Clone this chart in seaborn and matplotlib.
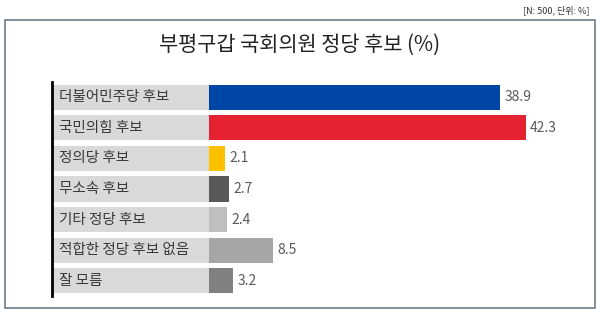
import matplotlib
matplotlib.use("Agg")
import matplotlib.pyplot as plt
import seaborn as sns
import pandas as pd
from matplotlib.patches import Rectangle

categories = ["더불어민주당 후보", "국민의힘 후보", "정의당 후보", "무소속 후보",
              "기타 정당 후보", "적합한 정당 후보 없음", "잘 모름"]
values = [38.9, 42.3, 2.1, 2.7, 2.4, 8.5, 3.2]
colors = ["#0046A6", "#E52330", "#FFC000", "#595959", "#BFBFBF", "#A6A6A6", "#808080"]
title = "부평구갑 국회의원 정당 후보 (%)"
note = "[N: 500, 단위: %]"

sns.set_style("white")
plt.rcParams["font.family"] = ["Noto Sans CJK KR", "DejaVu Sans"]

df = pd.DataFrame({"cat": categories, "val": values})

fig = plt.figure(figsize=(6.0, 3.16), dpi=100)
fig.patches.append(Rectangle((5 / 600, 1 - 308 / 316), 590 / 600, 288 / 316,
                             transform=fig.transFigure, fill=False,
                             edgecolor="#6E7B88", linewidth=1.2, zorder=0))
fig.text(0.983, 1 - 10 / 316, note, ha="right", va="center", fontsize=6.5, color="#333333")
fig.text(0.5, 1 - 45 / 316, title, ha="center", va="center", fontsize=15, color="#222222")

ax = fig.add_axes([52 / 600, 1 - 296 / 316, 538 / 600, 214 / 316])
bar_h = 0.82
band = 21.0
sns.barplot(data=df, x="val", y="cat", hue="cat", palette=colors, orient="h",
            width=bar_h, saturation=1, legend=False, ax=ax, zorder=3, linewidth=0)
ax.barh(range(len(categories)), [band] * len(categories), left=-band,
        height=bar_h, color="#D9D9D9", linewidth=0, zorder=2)
for i, (c, v) in enumerate(zip(categories, values)):
    ax.text(-band + 0.9, i, c, ha="left", va="center", fontsize=10.5, color="#3A3A3A", zorder=4)
    ax.text(v + 0.6, i, f"{v}", ha="left", va="center", fontsize=10, color="#595959", zorder=4)

ax.set_xlim(-band, 50.9)
ax.set_ylim(6.5, -0.5)
ax.set_xlabel("")
ax.set_ylabel("")
ax.set_xticks([])
ax.set_yticks([])
for s in ["top", "right", "bottom"]:
    ax.spines[s].set_visible(False)
ax.spines["left"].set_color("black")
ax.spines["left"].set_linewidth(2)
ax.set_facecolor("none")

fig.savefig("out.png", dpi=100)
